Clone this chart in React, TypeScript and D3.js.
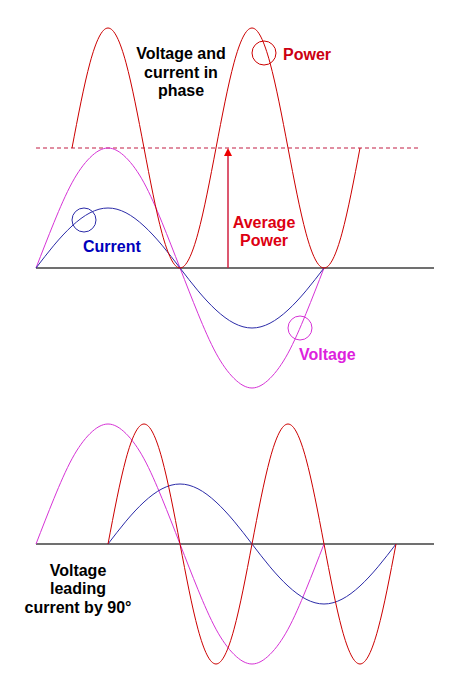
import * as d3 from "d3";

// Phase samples (degrees) and wave values (1 unit = voltage peak)
const phaseFull = [0, 22.5, 45, 67.5, 90, 112.5, 135, 157.5, 180, 202.5, 225, 247.5, 270, 292.5, 315, 337.5, 360];
const phaseFrom45 = [45, 67.5, 90, 112.5, 135, 157.5, 180, 202.5, 225, 247.5, 270, 292.5, 315, 337.5, 360, 382.5, 405];
const phaseFrom90 = [90, 112.5, 135, 157.5, 180, 202.5, 225, 247.5, 270, 292.5, 315, 337.5, 360, 382.5, 405, 427.5, 450];

// In phase (top)
const voltageTop = [0, 0.38, 0.71, 0.92, 1, 0.92, 0.71, 0.38, 0, -0.38, -0.71, -0.92, -1, -0.92, -0.71, -0.38, 0];
const currentTop = [0, 0.19, 0.35, 0.46, 0.5, 0.46, 0.35, 0.19, 0, -0.19, -0.35, -0.46, -0.5, -0.46, -0.35, -0.19, 0];
const powerTop = [1, 1.71, 2, 1.71, 1, 0.29, 0, 0.29, 1, 1.71, 2, 1.71, 1, 0.29, 0, 0.29, 1];
const averagePower = 1;

// Voltage leading by 90 degrees (bottom)
const voltageBottom = [0, 0.38, 0.71, 0.92, 1, 0.92, 0.71, 0.38, 0, -0.38, -0.71, -0.92, -1, -0.92, -0.71, -0.38, 0];
const currentBottom = [0, 0.19, 0.35, 0.46, 0.5, 0.46, 0.35, 0.19, 0, -0.19, -0.35, -0.46, -0.5, -0.46, -0.35, -0.19, 0];
const powerBottom = [0, 0.71, 1, 0.71, 0, -0.71, -1, -0.71, 0, 0.71, 1, 0.71, 0, -0.71, -1, -0.71, 0];

const topLabel = ["Voltage and", "current in", "phase"];
const bottomLabel = ["Voltage", "leading", "current by 90°"];
const avgLabel = ["Average", "Power"];

const RED = "#cc0000";
const MAGENTA = "#d633d6";
const BLUE = "#2b2ba8";
const FONT = "'Liberation Sans', Arial, sans-serif";

const x = d3.scaleLinear().domain([0, 497.5]).range([36, 434]);
const yTop = d3.scaleLinear().domain([-1, 2]).range([388, 28]);
const yBot = d3.scaleLinear().domain([-1, 1]).range([664, 424]);

type Pt = [number, number];
const zip = (ph: number[], v: number[]): Pt[] => ph.map((p, i) => [p, v[i]]);

function wave(ys: d3.ScaleLinear<number, number>) {
  return d3
    .line<Pt>()
    .x((d) => x(d[0]))
    .y((d) => ys(d[1]))
    .curve(d3.curveNatural);
}

function Lines({ lines, cx, y0, color, anchor = "middle" }: { lines: string[]; cx: number; y0: number; color: string; anchor?: string }) {
  return (
    <text x={cx} y={y0} fill={color} fontFamily={FONT} fontWeight="bold" fontSize={16} textAnchor={anchor}>
      {lines.map((t, i) => (
        <tspan key={i} x={cx} dy={i === 0 ? 0 : 18.5}>
          {t}
        </tspan>
      ))}
    </text>
  );
}

export default function App() {
  const lt = wave(yTop);
  const lb = wave(yBot);
  const avgY = yTop(averagePower);
  const arrowX = x(240);
  const [x0, x1] = x.range();

  return (
    <svg width={463} height={690} style={{ position: "absolute", left: 0, top: 0, background: "#fff" }}>
      {/* top panel */}
      <line x1={x0} x2={x1} y1={yTop(0)} y2={yTop(0)} stroke="#707070" strokeWidth={2} />
      <line x1={x0} x2={418} y1={avgY} y2={avgY} stroke="#d66a82" strokeWidth={1.3} strokeDasharray="4,3" />
      <path d={lt(zip(phaseFull, voltageTop)) ?? ""} fill="none" stroke={MAGENTA} strokeWidth={1} />
      <path d={lt(zip(phaseFull, currentTop)) ?? ""} fill="none" stroke={BLUE} strokeWidth={1} />
      <path d={lt(zip(phaseFrom45, powerTop)) ?? ""} fill="none" stroke={RED} strokeWidth={1} />
      <line x1={arrowX} x2={arrowX} y1={yTop(0)} y2={avgY + 6} stroke="#d02040" strokeWidth={1.5} />
      <path d={`M${arrowX},${avgY} L${arrowX - 4},${avgY + 8} L${arrowX + 4},${avgY + 8} Z`} fill="#ee0000" />

      <circle cx={84} cy={220} r={12} fill="none" stroke={BLUE} strokeWidth={1} />
      <circle cx={264} cy={53} r={12} fill="none" stroke={RED} strokeWidth={1} />
      <circle cx={300} cy={328} r={12} fill="none" stroke={MAGENTA} strokeWidth={1} />

      <Lines lines={topLabel} cx={181} y0={59} color="#000" />
      <Lines lines={["Power"]} cx={283} y0={60} color="#cc0011" anchor="start" />
      <Lines lines={["Current"]} cx={83} y0={252} color="#0000bb" anchor="start" />
      <Lines lines={avgLabel} cx={264} y0={227.5} color="#dd0011" />
      <Lines lines={["Voltage"]} cx={299} y0={360} color="#dd22dd" anchor="start" />

      {/* bottom panel */}
      <line x1={x0} x2={x1} y1={yBot(0)} y2={yBot(0)} stroke="#707070" strokeWidth={2} />
      <path d={lb(zip(phaseFull, voltageBottom)) ?? ""} fill="none" stroke={MAGENTA} strokeWidth={1} />
      <path d={lb(zip(phaseFrom90, currentBottom)) ?? ""} fill="none" stroke={BLUE} strokeWidth={1} />
      <path d={lb(zip(phaseFrom90, powerBottom)) ?? ""} fill="none" stroke={RED} strokeWidth={1} />

      <Lines lines={bottomLabel} cx={78} y0={575.5} color="#000" />
    </svg>
  );
}
